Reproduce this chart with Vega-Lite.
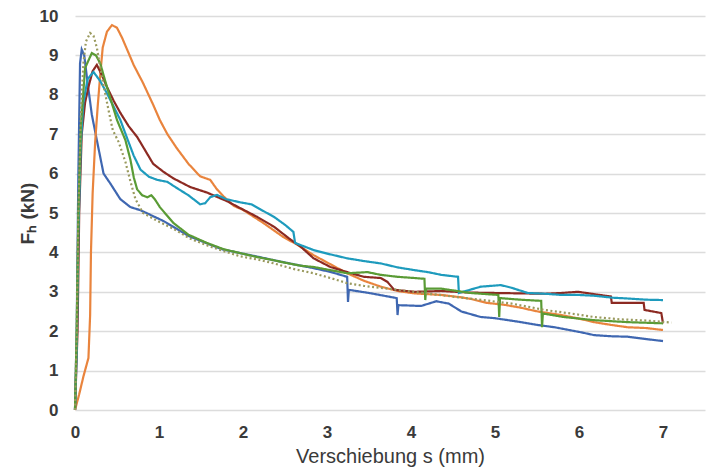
{
  "$schema": "https://vega.github.io/schema/vega-lite/v6.json",
  "width": 630,
  "height": 394,
  "autosize": {"type": "none"},
  "padding": {"left": 75, "top": 16, "right": 5, "bottom": 62},
  "background": "white",
  "config": {"view": {"stroke": null}, "font": "Liberation Sans"},
  "data": {"values": [
    {"s":"A","x":0,"y":0},{"s":"A","x":0.02,"y":2},{"s":"A","x":0.04,"y":6},{"s":"A","x":0.06,"y":8.8},{"s":"A","x":0.08,"y":9.15},{"s":"A","x":0.11,"y":9.0},{"s":"A","x":0.15,"y":8.3},{"s":"A","x":0.2,"y":7.5},{"s":"A","x":0.26,"y":6.85},{"s":"A","x":0.34,"y":6.0},{"s":"A","x":0.42,"y":5.75},{"s":"A","x":0.54,"y":5.35},{"s":"A","x":0.66,"y":5.15},{"s":"A","x":0.78,"y":5.07},{"s":"A","x":0.93,"y":4.92},{"s":"A","x":1.05,"y":4.8},{"s":"A","x":1.17,"y":4.65},{"s":"A","x":1.35,"y":4.42},{"s":"A","x":1.57,"y":4.23},{"s":"A","x":1.75,"y":4.08},{"s":"A","x":1.97,"y":3.98},{"s":"A","x":2.2,"y":3.88},{"s":"A","x":2.37,"y":3.8},{"s":"A","x":2.6,"y":3.7},{"s":"A","x":2.84,"y":3.6},{"s":"A","x":3.05,"y":3.5},{"s":"A","x":3.24,"y":3.38},{"s":"A","x":3.25,"y":2.74},{"s":"A","x":3.26,"y":3.05},{"s":"A","x":3.5,"y":2.97},{"s":"A","x":3.83,"y":2.84},{"s":"A","x":3.84,"y":2.41},{"s":"A","x":3.85,"y":2.66},{"s":"A","x":4.0,"y":2.65},{"s":"A","x":4.12,"y":2.64},{"s":"A","x":4.3,"y":2.76},{"s":"A","x":4.45,"y":2.7},{"s":"A","x":4.6,"y":2.5},{"s":"A","x":4.83,"y":2.36},{"s":"A","x":5.0,"y":2.33},{"s":"A","x":5.31,"y":2.23},{"s":"A","x":5.5,"y":2.16},{"s":"A","x":5.71,"y":2.1},{"s":"A","x":6.03,"y":1.97},{"s":"A","x":6.18,"y":1.9},{"s":"A","x":6.4,"y":1.87},{"s":"A","x":6.58,"y":1.86},{"s":"A","x":6.8,"y":1.8},{"s":"A","x":7.0,"y":1.75},

    {"s":"B","x":0,"y":0},{"s":"B","x":0.05,"y":0.4},{"s":"B","x":0.1,"y":0.85},{"s":"B","x":0.16,"y":1.32},{"s":"B","x":0.18,"y":2.4},{"s":"B","x":0.19,"y":4.0},{"s":"B","x":0.21,"y":5.5},{"s":"B","x":0.24,"y":6.8},{"s":"B","x":0.27,"y":7.7},{"s":"B","x":0.3,"y":8.5},{"s":"B","x":0.33,"y":9.2},{"s":"B","x":0.38,"y":9.6},{"s":"B","x":0.44,"y":9.77},{"s":"B","x":0.5,"y":9.7},{"s":"B","x":0.56,"y":9.45},{"s":"B","x":0.62,"y":9.15},{"s":"B","x":0.7,"y":8.75},{"s":"B","x":0.81,"y":8.3},{"s":"B","x":0.93,"y":7.75},{"s":"B","x":1.01,"y":7.36},{"s":"B","x":1.1,"y":7.0},{"s":"B","x":1.21,"y":6.65},{"s":"B","x":1.35,"y":6.25},{"s":"B","x":1.49,"y":5.93},{"s":"B","x":1.61,"y":5.84},{"s":"B","x":1.69,"y":5.6},{"s":"B","x":1.77,"y":5.42},{"s":"B","x":1.89,"y":5.18},{"s":"B","x":2.0,"y":5.08},{"s":"B","x":2.24,"y":4.75},{"s":"B","x":2.48,"y":4.39},{"s":"B","x":2.65,"y":4.19},{"s":"B","x":2.84,"y":3.93},{"s":"B","x":3.04,"y":3.7},{"s":"B","x":3.24,"y":3.47},{"s":"B","x":3.44,"y":3.28},{"s":"B","x":3.64,"y":3.13},{"s":"B","x":3.84,"y":3.02},{"s":"B","x":4.04,"y":2.96},{"s":"B","x":4.36,"y":2.92},{"s":"B","x":4.6,"y":2.86},{"s":"B","x":4.71,"y":2.82},{"s":"B","x":4.9,"y":2.72},{"s":"B","x":5.11,"y":2.67},{"s":"B","x":5.3,"y":2.6},{"s":"B","x":5.51,"y":2.5},{"s":"B","x":5.79,"y":2.41},{"s":"B","x":6.0,"y":2.32},{"s":"B","x":6.18,"y":2.23},{"s":"B","x":6.38,"y":2.16},{"s":"B","x":6.58,"y":2.1},{"s":"B","x":6.8,"y":2.08},{"s":"B","x":7.0,"y":2.03},

    {"s":"C","x":0,"y":0},{"s":"C","x":0.03,"y":2},{"s":"C","x":0.05,"y":5},{"s":"C","x":0.08,"y":7.0},{"s":"C","x":0.12,"y":7.8},{"s":"C","x":0.16,"y":8.2},{"s":"C","x":0.21,"y":8.6},{"s":"C","x":0.26,"y":8.76},{"s":"C","x":0.32,"y":8.5},{"s":"C","x":0.38,"y":8.2},{"s":"C","x":0.46,"y":7.85},{"s":"C","x":0.54,"y":7.54},{"s":"C","x":0.64,"y":7.2},{"s":"C","x":0.74,"y":6.93},{"s":"C","x":0.81,"y":6.68},{"s":"C","x":0.93,"y":6.25},{"s":"C","x":1.05,"y":6.05},{"s":"C","x":1.17,"y":5.88},{"s":"C","x":1.37,"y":5.66},{"s":"C","x":1.57,"y":5.52},{"s":"C","x":1.81,"y":5.3},{"s":"C","x":1.97,"y":5.12},{"s":"C","x":2.17,"y":4.9},{"s":"C","x":2.37,"y":4.65},{"s":"C","x":2.55,"y":4.35},{"s":"C","x":2.69,"y":4.14},{"s":"C","x":2.84,"y":3.85},{"s":"C","x":3.04,"y":3.63},{"s":"C","x":3.24,"y":3.5},{"s":"C","x":3.44,"y":3.38},{"s":"C","x":3.64,"y":3.35},{"s":"C","x":3.72,"y":3.25},{"s":"C","x":3.8,"y":3.05},{"s":"C","x":4.04,"y":3.0},{"s":"C","x":4.36,"y":3.02},{"s":"C","x":4.7,"y":2.98},{"s":"C","x":5.0,"y":2.97},{"s":"C","x":5.3,"y":2.96},{"s":"C","x":5.6,"y":2.95},{"s":"C","x":5.79,"y":2.97},{"s":"C","x":5.99,"y":3.0},{"s":"C","x":6.18,"y":2.94},{"s":"C","x":6.38,"y":2.88},{"s":"C","x":6.39,"y":2.72},{"s":"C","x":6.77,"y":2.72},{"s":"C","x":6.78,"y":2.54},{"s":"C","x":6.98,"y":2.46},{"s":"C","x":7.0,"y":2.2},

    {"s":"D","x":0,"y":0},{"s":"D","x":0.02,"y":1.5},{"s":"D","x":0.04,"y":4.5},{"s":"D","x":0.07,"y":6.8},{"s":"D","x":0.1,"y":7.8},{"s":"D","x":0.15,"y":8.4},{"s":"D","x":0.22,"y":8.58},{"s":"D","x":0.3,"y":8.35},{"s":"D","x":0.38,"y":8.04},{"s":"D","x":0.46,"y":7.7},{"s":"D","x":0.54,"y":7.36},{"s":"D","x":0.62,"y":6.9},{"s":"D","x":0.7,"y":6.45},{"s":"D","x":0.78,"y":6.1},{"s":"D","x":0.88,"y":5.92},{"s":"D","x":0.98,"y":5.84},{"s":"D","x":1.1,"y":5.79},{"s":"D","x":1.2,"y":5.65},{"s":"D","x":1.35,"y":5.45},{"s":"D","x":1.49,"y":5.22},{"s":"D","x":1.55,"y":5.25},{"s":"D","x":1.61,"y":5.4},{"s":"D","x":1.69,"y":5.46},{"s":"D","x":1.8,"y":5.35},{"s":"D","x":1.97,"y":5.27},{"s":"D","x":2.1,"y":5.22},{"s":"D","x":2.2,"y":5.1},{"s":"D","x":2.37,"y":4.9},{"s":"D","x":2.5,"y":4.7},{"s":"D","x":2.6,"y":4.52},{"s":"D","x":2.62,"y":4.24},{"s":"D","x":2.84,"y":4.06},{"s":"D","x":3.04,"y":3.95},{"s":"D","x":3.24,"y":3.85},{"s":"D","x":3.44,"y":3.78},{"s":"D","x":3.64,"y":3.72},{"s":"D","x":3.84,"y":3.62},{"s":"D","x":4.04,"y":3.55},{"s":"D","x":4.2,"y":3.5},{"s":"D","x":4.36,"y":3.43},{"s":"D","x":4.56,"y":3.38},{"s":"D","x":4.57,"y":2.97},{"s":"D","x":4.7,"y":3.05},{"s":"D","x":4.83,"y":3.13},{"s":"D","x":5.07,"y":3.17},{"s":"D","x":5.2,"y":3.1},{"s":"D","x":5.39,"y":2.97},{"s":"D","x":5.6,"y":2.95},{"s":"D","x":5.79,"y":2.92},{"s":"D","x":6.0,"y":2.92},{"s":"D","x":6.18,"y":2.9},{"s":"D","x":6.4,"y":2.85},{"s":"D","x":6.58,"y":2.83},{"s":"D","x":6.8,"y":2.8},{"s":"D","x":7.0,"y":2.79},

    {"s":"E","x":0,"y":0},{"s":"E","x":0.02,"y":2},{"s":"E","x":0.04,"y":5},{"s":"E","x":0.07,"y":7.2},{"s":"E","x":0.12,"y":8.68},{"s":"E","x":0.2,"y":9.06},{"s":"E","x":0.25,"y":9.0},{"s":"E","x":0.3,"y":8.8},{"s":"E","x":0.38,"y":8.2},{"s":"E","x":0.5,"y":7.36},{"s":"E","x":0.6,"y":6.85},{"s":"E","x":0.66,"y":6.35},{"s":"E","x":0.7,"y":5.9},{"s":"E","x":0.74,"y":5.6},{"s":"E","x":0.8,"y":5.45},{"s":"E","x":0.86,"y":5.4},{"s":"E","x":0.91,"y":5.45},{"s":"E","x":0.95,"y":5.35},{"s":"E","x":1.01,"y":5.15},{"s":"E","x":1.17,"y":4.75},{"s":"E","x":1.35,"y":4.45},{"s":"E","x":1.57,"y":4.24},{"s":"E","x":1.77,"y":4.08},{"s":"E","x":1.97,"y":3.98},{"s":"E","x":2.17,"y":3.88},{"s":"E","x":2.37,"y":3.8},{"s":"E","x":2.45,"y":3.76},{"s":"E","x":2.69,"y":3.66},{"s":"E","x":2.84,"y":3.63},{"s":"E","x":3.04,"y":3.55},{"s":"E","x":3.24,"y":3.47},{"s":"E","x":3.48,"y":3.5},{"s":"E","x":3.64,"y":3.43},{"s":"E","x":3.84,"y":3.38},{"s":"E","x":4.04,"y":3.35},{"s":"E","x":4.16,"y":3.33},{"s":"E","x":4.17,"y":2.79},{"s":"E","x":4.18,"y":3.08},{"s":"E","x":4.36,"y":3.08},{"s":"E","x":4.71,"y":2.97},{"s":"E","x":5.04,"y":2.92},{"s":"E","x":5.05,"y":2.36},{"s":"E","x":5.06,"y":2.84},{"s":"E","x":5.3,"y":2.8},{"s":"E","x":5.55,"y":2.77},{"s":"E","x":5.56,"y":2.1},{"s":"E","x":5.57,"y":2.45},{"s":"E","x":5.82,"y":2.36},{"s":"E","x":6.18,"y":2.28},{"s":"E","x":6.58,"y":2.23},{"s":"E","x":7.0,"y":2.2},

    {"s":"F","x":0,"y":0},{"s":"F","x":0.02,"y":2},{"s":"F","x":0.04,"y":5},{"s":"F","x":0.07,"y":7.5},{"s":"F","x":0.1,"y":8.8},{"s":"F","x":0.13,"y":9.35},{"s":"F","x":0.18,"y":9.57},{"s":"F","x":0.22,"y":9.5},{"s":"F","x":0.26,"y":9.2},{"s":"F","x":0.32,"y":8.45},{"s":"F","x":0.4,"y":7.6},{"s":"F","x":0.45,"y":7.1},{"s":"F","x":0.52,"y":6.8},{"s":"F","x":0.6,"y":6.3},{"s":"F","x":0.66,"y":5.8},{"s":"F","x":0.72,"y":5.35},{"s":"F","x":0.81,"y":5.0},{"s":"F","x":0.98,"y":4.8},{"s":"F","x":1.17,"y":4.6},{"s":"F","x":1.37,"y":4.35},{"s":"F","x":1.57,"y":4.18},{"s":"F","x":1.77,"y":4.03},{"s":"F","x":1.97,"y":3.9},{"s":"F","x":2.17,"y":3.82},{"s":"F","x":2.37,"y":3.72},{"s":"F","x":2.6,"y":3.58},{"s":"F","x":2.84,"y":3.47},{"s":"F","x":3.04,"y":3.35},{"s":"F","x":3.24,"y":3.22},{"s":"F","x":3.44,"y":3.15},{"s":"F","x":3.64,"y":3.1},{"s":"F","x":3.84,"y":3.05},{"s":"F","x":4.04,"y":3.0},{"s":"F","x":4.3,"y":2.93},{"s":"F","x":4.6,"y":2.85},{"s":"F","x":4.9,"y":2.78},{"s":"F","x":5.2,"y":2.7},{"s":"F","x":5.59,"y":2.54},{"s":"F","x":5.9,"y":2.45},{"s":"F","x":6.18,"y":2.36},{"s":"F","x":6.5,"y":2.3},{"s":"F","x":6.8,"y":2.27},{"s":"F","x":7.1,"y":2.22}
  ]},
  "mark": {"type": "line", "strokeWidth": 2.2, "interpolate": "linear"},
  "encoding": {
    "x": {"field": "x", "type": "quantitative",
      "scale": {"domain": [0, 7.5], "nice": false},
      "axis": {"values": [0,1,2,3,4,5,6,7], "grid": false, "domain": false, "ticks": false, "labelFlush": false,
        "labelPadding": 14, "labelFontSize": 17, "labelFontWeight": "bold", "labelColor": "#3a3a3a",
        "title": "Verschiebung s (mm)", "titleFontSize": 20, "titleFontWeight": "normal", "titleColor": "#3a3a3a", "titlePadding": 6}},
    "y": {"field": "y", "type": "quantitative",
      "scale": {"domain": [0, 10], "nice": false},
      "axis": {"values": [0,1,2,3,4,5,6,7,8,9,10], "grid": true, "gridColor": "#dcdcdc", "gridWidth": 1.5, "domain": false, "ticks": false, "labelFlush": false,
        "labelPadding": 17, "labelFontSize": 17, "labelFontWeight": "bold", "labelColor": "#3a3a3a",
        "title": "Fₕ (kN)", "titleFontSize": 19, "titleFontWeight": "bold", "titleColor": "#3a3a3a", "titlePadding": 2}},
    "color": {"field": "s", "type": "nominal", "legend": null,
      "scale": {"domain": ["A","B","C","D","E","F"], "range": ["#3F67B1","#E9843D","#8C2A22","#1E9BBD","#5A9B35","#9a9a5e"]}},
    "strokeDash": {"field": "s", "type": "nominal", "legend": null,
      "scale": {"domain": ["A","B","C","D","E","F"], "range": [[1,0],[1,0],[1,0],[1,0],[1,0],[2,2.5]]}},
    "order": {"value": null}
  }
}
